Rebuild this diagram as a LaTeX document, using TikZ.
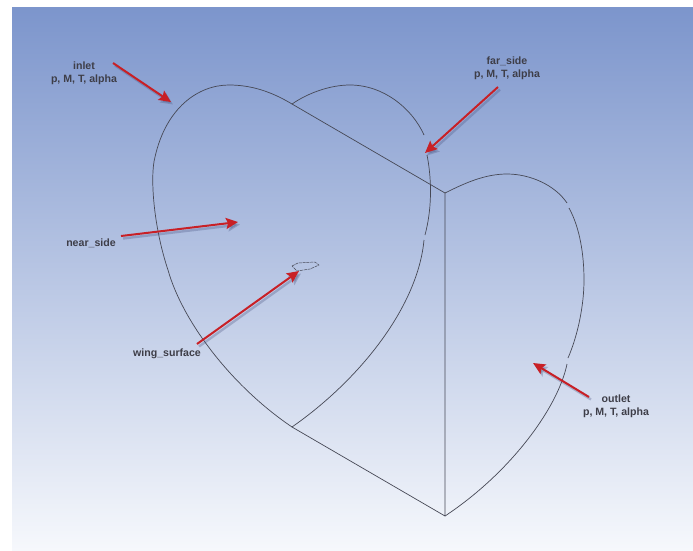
\documentclass[tikz,border=0pt]{standalone}
\usepackage{fontspec}
\setmainfont{Liberation Sans}
\usetikzlibrary{arrows.meta}
\definecolor{skytop}{RGB}{124,149,204}
\definecolor{skymid}{RGB}{178,193,227}
\definecolor{skylow}{RGB}{246,248,252}
\definecolor{wirecol}{RGB}{70,72,85}
\definecolor{arrowred}{RGB}{200,32,38}
\definecolor{shadowcol}{RGB}{70,80,125}
\definecolor{labelcol}{RGB}{62,62,72}
\tikzset{
  wire/.style={draw=wirecol,line width=0.7pt,line join=round},
  lbl/.style={font=\fontsize{10.6}{13}\selectfont\bfseries,text=labelcol,align=center,inner sep=0pt},
  redarr/.style={-{Stealth[length=12pt,width=11pt,inset=2pt]},line width=2pt,draw=arrowred,
    preaction={draw=shadowcol,draw opacity=.3,fill opacity=.3,line width=2.4pt,
      transform canvas={shift={(2pt,-2.5pt)}}}},
}
\begin{document}
\begin{tikzpicture}[x=1pt,y=-1pt]
    \useasboundingbox (0,0) rectangle (693,550);
    \shade[top color=skytop,middle color=skymid,bottom color=skylow]
      (12,7) rectangle (693,550);

    % corners of the block
    \coordinate (topnear) at (292,104);
    \coordinate (topmid) at (445,193);
    \coordinate (lownear) at (292,427);
    \coordinate (lowmid) at (445,516);

    % straight edges
    \draw[wire] (topnear) -- (topmid) -- (lowmid) -- (lownear);

    % inlet outline
    \draw[wire] (topnear) .. controls (272,92) and (252,85) .. (229,85)
      .. controls (198,85) and (166,108) .. (155,157)
      .. controls (150,175) and (153,225) .. (168,270)
      .. controls (182,320) and (230,385) .. (lownear);
    % far outline
    \draw[wire] (topnear) .. controls (308,93) and (330,85) .. (350,85)
      .. controls (383,85) and (412,108) .. (424,135);
    \draw[wire] (427,155) .. controls (431,175) and (433,205) .. (425,235);
    \draw[wire] (424,240) .. controls (418,305) and (362,378) .. (lownear);
    % outlet outline
    \draw[wire] (topmid) .. controls (465,183) and (485,174) .. (507,174)
      .. controls (530,174) and (555,185) .. (567,203);
    \draw[wire] (569,208) .. controls (580,228) and (584,255) .. (584,280)
      .. controls (584,305) and (578,335) .. (568,358);
    \draw[wire] (567,364) .. controls (558,408) and (510,473) .. (lowmid);

    % wing
    \draw[wire,line width=0.5pt,dash pattern=on 3pt off 0.8pt] (292,266) -- (298,263)
      -- (315,262) -- (319,265) -- (310,269) -- (297,271) -- cycle;

    % labels
    \node[lbl] (inlet) at (84,73.5) {inlet\\p, M, T, alpha};
    \node[lbl] (farside) at (507,68.5) {far\_side\\p, M, T, alpha};
    \node[lbl] (nearside) at (91,243) {near\_side};
    \node[lbl] (wingsurface) at (167,354) {wing\_surface};
    \node[lbl] (outlet) at (616,406.5) {outlet\\p, M, T, alpha};

    % arrow ends
    \coordinate (inletfrom) at (113,63);
    \coordinate (inletto) at (171,102);
    \coordinate (farfrom) at (498,87);
    \coordinate (farto) at (425,153);
    \coordinate (nearfrom) at (121,236);
    \coordinate (nearto) at (238,222);
    \coordinate (wingfrom) at (197,344);
    \coordinate (wingto) at (299,271);
    \coordinate (outletfrom) at (589,397);
    \coordinate (outletto) at (533,363);

    \draw[redarr] (inletfrom) -- (inletto);
    \draw[redarr] (farfrom) -- (farto);
    \draw[redarr] (nearfrom) -- (nearto);
    \draw[redarr] (wingfrom) -- (wingto);
    \draw[redarr] (outletfrom) -- (outletto);
\end{tikzpicture}
\end{document}
